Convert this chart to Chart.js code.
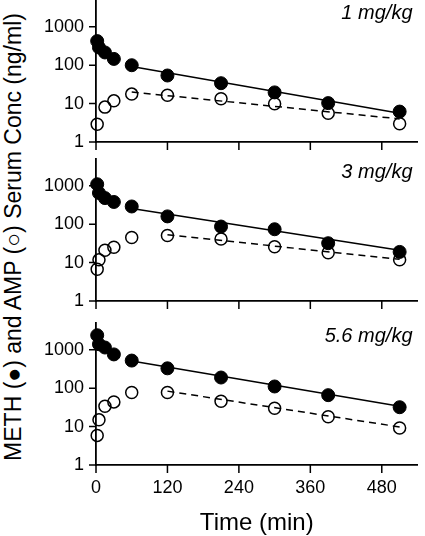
<!DOCTYPE html>
<html>
<head>
<meta charset="utf-8">
<script src="https://cdn.jsdelivr.net/npm/chart.js@4.4.0/dist/chart.umd.min.js"></script>
<style>
  html, body { margin: 0; padding: 0; background: #fff; }
  body { width: 425px; height: 536px; position: relative; overflow: hidden; font-family: "Liberation Sans", Arial, sans-serif; }
  canvas { position: absolute; left: 0; }
  #ytitle { position: absolute; left: 13px; top: 237px; transform: translate(-50%, -50%) rotate(-90deg);
            white-space: nowrap; font-size: 23px; color: #000; }
</style>
</head>
<body>
<div id="ytitle">METH (●) and AMP (○) Serum Conc (ng/ml)</div>
<canvas id="p1" width="425" height="162" style="top:-8px"></canvas>
<canvas id="p2" width="425" height="162" style="top:151px"></canvas>
<canvas id="p3" width="425" height="222" style="top:315px"></canvas>
<script>
const FONT = '"Liberation Sans", Arial, sans-serif'

// sampling times (min)
const TIME = [2, 5, 15, 30, 60, 120, 210, 300, 390, 510]

// 1 mg/kg
const METH_1 = [425, 290, 215, 146, 100, 54, 34, 19.6, 10.3, 6.2]
const AMP_1 = [2.9, null, 8.1, 11.8, 17.7, 16.5, 13.4, 9.9, 5.6, 3.0]
// 3 mg/kg
const METH_3 = [1100, 650, 480, 380, 290, 160, 87, 74, 32, 19]
const AMP_3 = [6.7, 11.8, 21, 25, 45, 51, 41, 26, 18, 11.8]
// 5.6 mg/kg
const METH_56 = [2400, 1400, 1150, 760, 525, 330, 190, 111, 66, 32]
const AMP_56 = [5.9, 15, 34, 44, 77, 77, 46, 30, 18, 9.2]

// fitted elimination lines (start, end)
const FIT_METH_T = [60, 510]
const FIT_METH_1 = [92, 5.6]
const FIT_METH_3 = [255, 21]
const FIT_METH_56 = [511, 34]
const FIT_AMP_T_1 = [60, 510]
const FIT_AMP_T = [120, 510]
const FIT_AMP_1 = [20, 4.0]
const FIT_AMP_3 = [53, 12.2]
const FIT_AMP_56 = [84, 9.8]

const DOSES = ['1 mg/kg', '3 mg/kg', '5.6 mg/kg']

const X_LABELS = [0, 120, 240, 360, 480]
const X_TICKS = [0, 30, 60, 90, 120, 150, 180, 210, 240, 270, 300, 330, 360, 390, 420, 450, 480, 510, 540]
const Y_LABELS = [1, 10, 100, 1000]
const Y_TICKS = []
Y_LABELS.forEach(d => { for (let m = 1; m <= 9; m++) if (d * m <= 5000) Y_TICKS.push(d * m) })

const pts = (xs, ys) => xs.map((x, i) => ({x: x, y: ys[i]})).filter(p => p.y != null)

// tick marks: long at labelled values, short otherwise
const tickMarks = {
  id: 'tickMarks',
  afterDraw(chart) {
    const {ctx, chartArea: a, scales: {x, y}} = chart
    ctx.save()
    ctx.strokeStyle = '#000'
    ctx.lineWidth = 1.5
    ctx.beginPath()
    y.ticks.forEach(t => {
      const py = y.getPixelForValue(t.value)
      const len = Y_LABELS.includes(t.value) ? 7 : 4
      ctx.moveTo(a.left - len, py); ctx.lineTo(a.left, py)
    })
    x.ticks.forEach(t => {
      const px = x.getPixelForValue(t.value)
      const len = t.value % 120 === 0 ? 8 : 5
      ctx.moveTo(px, a.bottom); ctx.lineTo(px, a.bottom + len)
    })
    ctx.stroke()
    ctx.restore()
  }
}

function doseLabel(text) {
  return {
    id: 'doseLabel',
    afterDraw(chart) {
      const {ctx, chartArea: a} = chart
      ctx.save()
      ctx.font = 'italic 20px ' + FONT
      ctx.fillStyle = '#000'
      ctx.textAlign = 'right'
      ctx.textBaseline = 'middle'
      ctx.fillText(text, a.right - 5, a.top + 13)
      ctx.restore()
    }
  }
}

function makePanel(id, meth, amp, methFit, ampFitT, ampFit, dose, last) {
  new Chart(document.getElementById(id), {
    type: 'scatter',
    data: {
      datasets: [
        { data: pts(TIME, meth), pointRadius: 6.5, pointBackgroundColor: '#000', pointBorderColor: '#000',
          pointBorderWidth: 1, showLine: false, clip: false },
        { data: pts(TIME, amp), pointRadius: 6, pointBackgroundColor: 'rgba(0,0,0,0)', pointBorderColor: '#000',
          pointBorderWidth: 1.5, showLine: false, clip: false },
        { data: pts(FIT_METH_T, methFit), showLine: true, pointRadius: 0, borderColor: '#000', borderWidth: 1.5 },
        { data: pts(ampFitT, ampFit), showLine: true, pointRadius: 0, borderColor: '#000', borderWidth: 1.5,
          borderDash: [7, 5] }
      ]
    },
    options: {
      responsive: false,
      animation: false,
      layout: { padding: { top: 8, right: 6, left: 0, bottom: 0 } },
      plugins: { legend: { display: false }, tooltip: { enabled: false } },
      scales: {
        x: {
          type: 'linear', min: 0, max: 540,
          grid: { display: false, drawTicks: false },
          border: { display: true, color: '#000', width: 1.8 },
          afterBuildTicks: s => { s.ticks = X_TICKS.map(v => ({value: v})) },
          afterFit: s => { s.height = last ? 72 : 12; s.paddingLeft = 0; s.paddingRight = 0 },
          ticks: { display: last, color: '#000', font: { family: FONT, size: 18 }, padding: 12,
                   maxRotation: 0, autoSkip: false,
                   callback: v => X_LABELS.includes(v) ? String(v) : null },
          title: { display: last, text: 'Time (min)', color: '#000',
                   font: { family: FONT, size: 24, lineHeight: 1 }, padding: { top: 4, bottom: 2 } }
        },
        y: {
          type: 'logarithmic', min: 1, max: 5000,
          grid: { display: false, drawTicks: false },
          border: { display: true, color: '#000', width: 1.8 },
          afterBuildTicks: s => { s.ticks = Y_TICKS.map(v => ({value: v})) },
          afterFit: s => { s.width = 96; s.paddingTop = 0; s.paddingBottom = 0 },
          ticks: { color: '#000', font: { family: FONT, size: 18 }, padding: 12, autoSkip: false,
                   callback: v => Y_LABELS.includes(v) ? String(v) : null }
        }
      }
    },
    plugins: [tickMarks, doseLabel(dose)]
  })
}

makePanel('p1', METH_1, AMP_1, FIT_METH_1, FIT_AMP_T_1, FIT_AMP_1, DOSES[0], false)
makePanel('p2', METH_3, AMP_3, FIT_METH_3, FIT_AMP_T, FIT_AMP_3, DOSES[1], false)
makePanel('p3', METH_56, AMP_56, FIT_METH_56, FIT_AMP_T, FIT_AMP_56, DOSES[2], true)
</script>
</body>
</html>
